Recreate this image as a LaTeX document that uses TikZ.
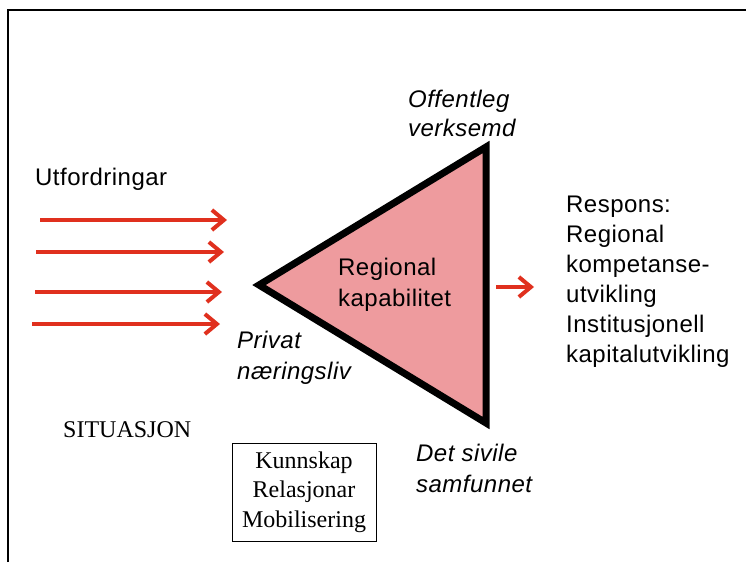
\documentclass[tikz,border=0pt]{standalone}
\usepackage{fontspec}
\setmainfont{Liberation Serif}
\setsansfont[LetterSpace=2]{Liberation Sans}
\usetikzlibrary{arrows.meta}
\pgfdeclarelayer{edgelayer}
\pgfdeclarelayer{nodelayer}
\pgfsetlayers{edgelayer,nodelayer,main}
\definecolor{arrowred}{RGB}{224,48,30}
\definecolor{trifill}{RGB}{238,155,158}
\tikzset{font=\sffamily\fontsize{24}{31}\selectfont}
\tikzstyle{none}=[inner sep=0pt]
\tikzstyle{txt}=[inner sep=0pt, anchor=base west, align=left]
\tikzstyle{actor}=[txt, font=\sffamily\itshape\fontsize{24}{31}\selectfont]
\tikzstyle{rom}=[inner sep=0pt, font=\rmfamily\fontsize{24}{29.5}\selectfont]
\tikzstyle{framebox}=[rom, draw, line width=0.8pt, minimum width=144pt, minimum height=98pt, align=center]
\tikzstyle{push}=[draw=arrowred, line width=4pt, -{Straight Barb[length=12pt,width=20pt]}]

\begin{document}
\begin{tikzpicture}[x=1pt,y=-1pt]
	\useasboundingbox (0,0) rectangle (746,562);
	\draw[line width=2pt] (8,562) -- (8,10) -- (746,10);
	\begin{pgfonlayer}{nodelayer}
		% multi-line nodes sit on the baseline of their last line
		\node [style=txt] (0) at (35, 185) {Utfordringar};
		\node [style=actor] (1) at (408, 136) {Offentleg\\[-2pt]verksemd};
		\node [style=actor] (2) at (237, 379) {Privat\\næringsliv};
		\node [style=actor] (3) at (416, 492) {Det sivile\\samfunnet};
		\node [style=txt] (4) at (338, 306) {Regional\\kapabilitet};
		\node [style=txt, font=\sffamily\fontsize{24}{30}\selectfont] (5) at (566, 362) {Respons:\\Regional\\kompetanse-\\utvikling\\Institusjonell\\kapitalutvikling};
		\node [style=rom, anchor=base west] (6) at (63, 437) {SITUASJON};
		\node [style=framebox] (7) at (304, 492) {Kunnskap\\Relasjonar\\Mobilisering};
		\coordinate (10) at (40, 220);
		\coordinate (11) at (227, 220);
		\coordinate (12) at (36, 252);
		\coordinate (13) at (224, 252);
		\coordinate (14) at (35, 292);
		\coordinate (15) at (222, 292);
		\coordinate (16) at (32, 324);
		\coordinate (17) at (220, 324);
		\coordinate (18) at (496, 287);
		\coordinate (19) at (534, 287);
		\coordinate (20) at (259, 285);
		\coordinate (21) at (486, 147);
		\coordinate (22) at (486, 423);
	\end{pgfonlayer}
	\begin{pgfonlayer}{edgelayer}
		\draw[line width=7pt, line join=miter, fill=trifill] (20) -- (21) -- (22) -- cycle;
		\draw[style=push] (10) to (11);
		\draw[style=push] (12) to (13);
		\draw[style=push] (14) to (15);
		\draw[style=push] (16) to (17);
		\draw[style=push] (18) to (19);
	\end{pgfonlayer}
\end{tikzpicture}
\end{document}
